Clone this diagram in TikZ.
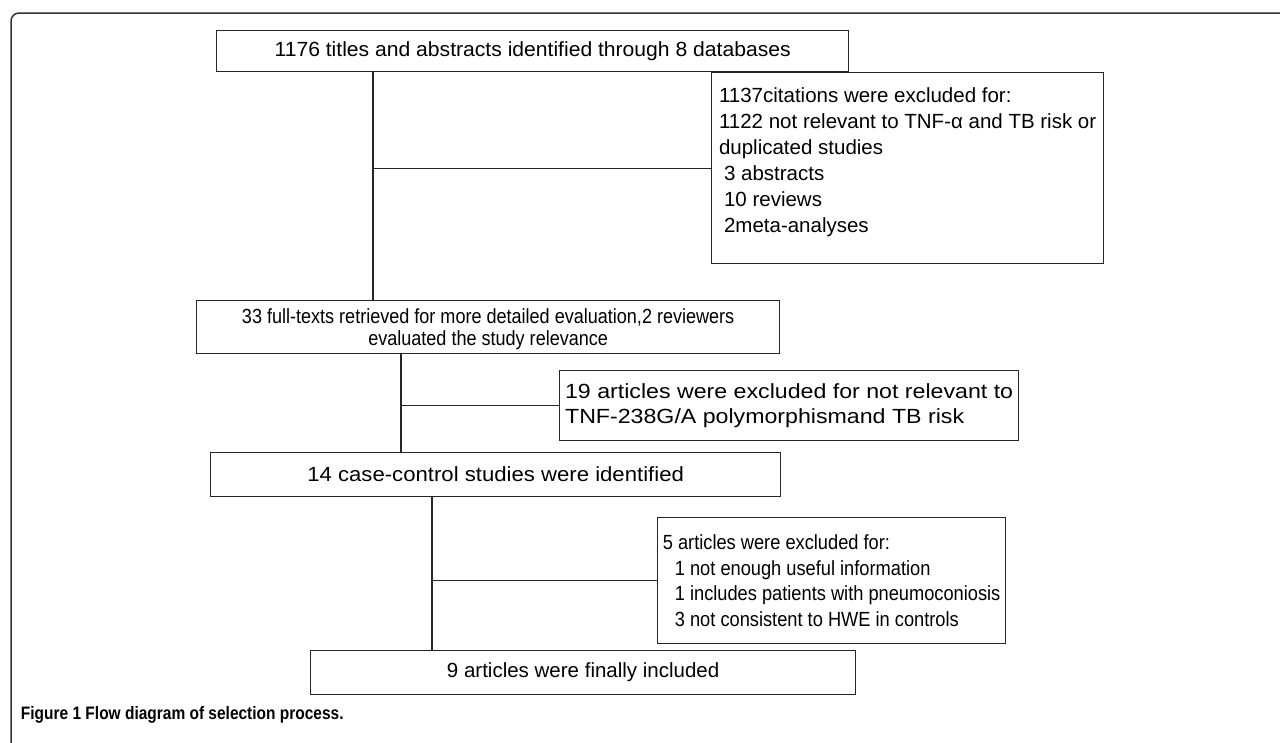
\documentclass[tikz,border=0pt]{standalone}
\usepackage{fontspec}
\setmainfont{Liberation Sans}
\newfontfamily\capfont[FakeStretch=0.86]{Liberation Sans}
\usetikzlibrary{calc}
% size, line skip and width of the text in a box
\newcommand{\fsz}[3]{\addfontfeatures{FakeStretch=#3}\fontsize{#1}{#2}\selectfont}

\begin{document}
\begin{tikzpicture}[x=1pt,y=-1pt,line width=1.3pt]
	% `cbox' is used for the steps of the selection (centred text).
	% `lbox' is used for the boxes of excluded papers.
	\tikzstyle{box} = [draw=black!85,anchor=north west,inner sep=0pt]
	\tikzstyle{cbox} = [box,align=center]
	\tikzstyle{lbox} = [box,align=left]
	\tikzstyle{link} = [draw=black!85]
	\useasboundingbox (0,0) rectangle (1280,742);
	% Frame of the figure.
	\draw[black!80,line width=1.5pt,rounded corners=8pt] (1290,13) -- (11,13) -- (11,760);
	%
	% First step.
	\node[cbox,minimum width=632,minimum height=41,font=\fsz{20.5}{26}{1.03}] (ident) at (216,30)
		{1176 titles and abstracts identified through 8 databases};
	\node[lbox,minimum width=392,minimum height=191,font=\fsz{20.5}{26}{1.0}] (excl1) at (711,72)
		{1137citations were excluded for:\\
		 1122 not relevant to TNF-α and TB risk or\\
		 duplicated studies\\
		 \hspace*{5pt}3 abstracts\\
		 \hspace*{5pt}10 reviews\\
		 \hspace*{5pt}2meta-analyses\rule[-17pt]{0pt}{17pt}};
	% Second step.
	\node[cbox,minimum width=583,minimum height=53,font=\fsz{20.5}{22}{0.88}] (full) at (196,300)
		{\rule{0pt}{19pt}33 full-texts retrieved for more detailed evaluation,2 reviewers\\evaluated the study relevance};
	\node[lbox,minimum width=459,minimum height=70,font=\fsz{20.5}{25}{1.13}] (excl2) at (559,370)
		{19 articles were excluded for not relevant to\\
		 TNF-238G/A polymorphismand TB risk};
	% Third step.
	\node[cbox,minimum width=570,minimum height=44,font=\fsz{20.5}{26}{1.08}] (cc) at (210,452)
		{14 case-control studies were identified};
	\node[lbox,minimum width=348,minimum height=126,font=\fsz{20.5}{25.7}{0.89}] (excl3) at (657,517)
		{5 articles were excluded for:\\
		 \hspace*{12pt}1 not enough useful information\\
		 \hspace*{12pt}1 includes patients with pneumoconiosis\\
		 \hspace*{12pt}3 not consistent to HWE in controls};
	% Last step.
	\node[cbox,minimum width=545,minimum height=44,font=\fsz{20.5}{26}{1.0}] (incl) at (310,650)
		{9 articles were finally included};
	%
	% Trunk positions.
	\coordinate (t1) at (373,0);
	\coordinate (t2) at (401,0);
	\coordinate (t3) at (432,0);
	% Draw lines.
	\draw[link] (t1 |- ident.south) -- (t1 |- full.north)  (t1 |- excl1.west) -- (excl1.west);
	\draw[link] (t2 |- full.south) -- (t2 |- cc.north)  (t2 |- excl2.west) -- (excl2.west);
	\draw[link] (t3 |- cc.south) -- (t3 |- incl.north)  (t3 |- excl3.west) -- (excl3.west);
	% Caption.
	\node[anchor=base west,font=\capfont\bfseries\fontsize{18}{20}\selectfont] (caption) at (17,719)
		{Figure 1 Flow diagram of selection process.};
\end{tikzpicture}
\end{document}
